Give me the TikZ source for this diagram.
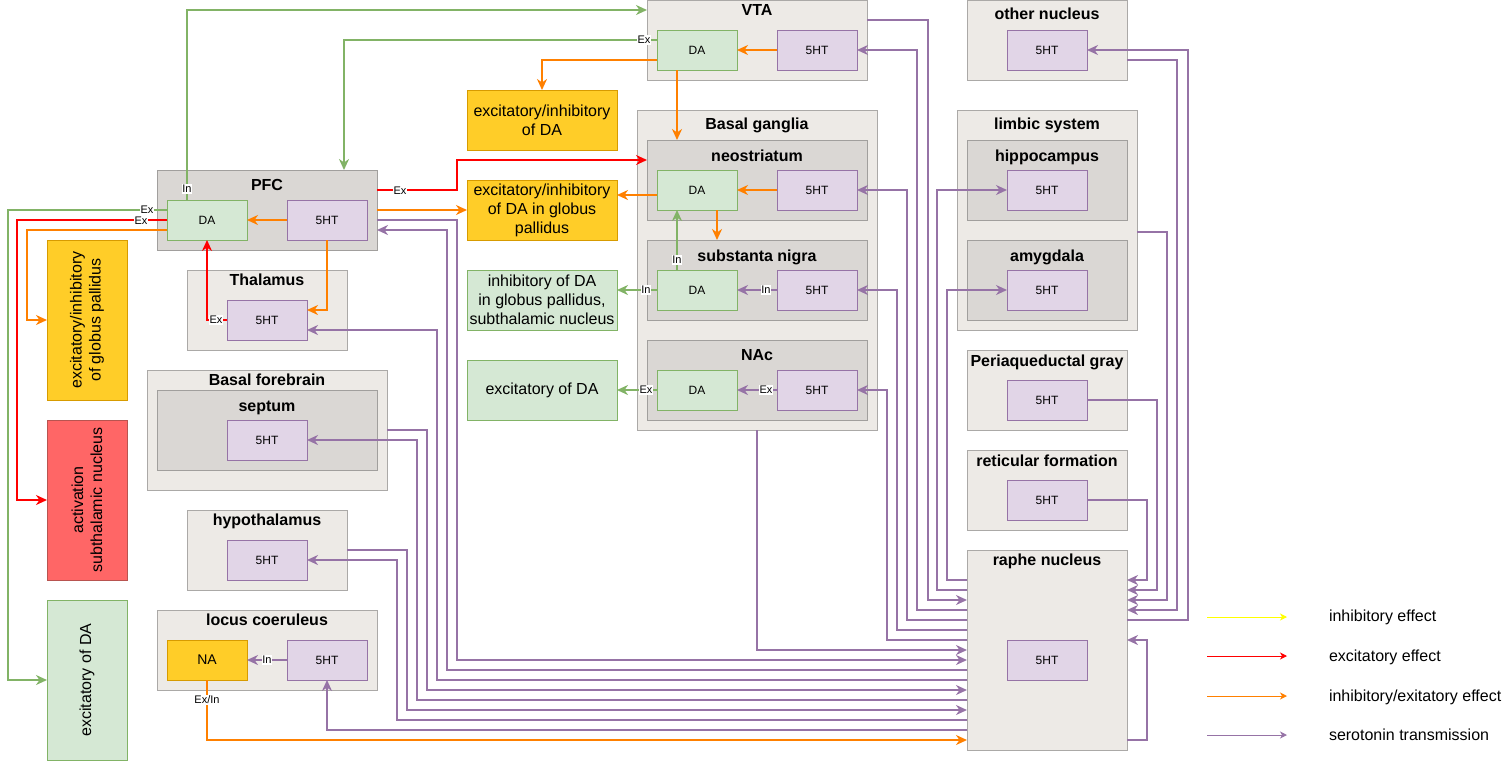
\documentclass[tikz,border=0pt]{standalone}
\usepackage{fontspec}
\setmainfont{Liberation Sans}
\usetikzlibrary{arrows.meta,calc}
\definecolor{cOut}{HTML}{EDEAE6}
\definecolor{cOutD}{HTML}{ABA9A7}
\definecolor{cIn}{HTML}{DAD7D4}
\definecolor{cInD}{HTML}{A19F9D}
\definecolor{cGf}{HTML}{D5E8D4}
\definecolor{cGd}{HTML}{82B366}
\definecolor{cPf}{HTML}{E1D5E7}
\definecolor{cPd}{HTML}{9673A6}
\definecolor{cYf}{HTML}{FFCD28}
\definecolor{cYd}{HTML}{D79B00}
\definecolor{cRf}{HTML}{FF6666}
\definecolor{cRd}{HTML}{B85450}
\definecolor{cOr}{HTML}{FF8000}
\definecolor{cRed}{HTML}{FF0000}
\definecolor{cLeg}{HTML}{FFFF00}
\newcommand\cont[6]{\node[#1, anchor=north west, minimum width=#5pt, minimum height=#6pt] (#2) at (#3,#4) {};}
\begin{document}
\begin{tikzpicture}[x=1pt,y=-1pt,
  every node/.style={inner sep=0pt, outer sep=0pt},
  outerbox/.style={draw=cOutD, fill=cOut, line width=1pt},
  innerbox/.style={draw=cInD, fill=cIn, line width=1pt},
  small/.style={minimum width=80pt, minimum height=40pt, line width=1pt, font=\fontsize{12}{14}\selectfont},
  dabox/.style={small, draw=cGd, fill=cGf},
  htbox/.style={small, draw=cPd, fill=cPf},
  nabox/.style={small, draw=cYd, fill=cYf, font=\fontsize{14}{16}\selectfont},
  txtbox/.style={minimum width=150pt, minimum height=60pt, line width=1pt, align=center, font=\fontsize{16}{19}\selectfont},
  sidebox/.style={rotate=90, minimum width=160pt, minimum height=80pt, line width=1pt, align=center, font=\fontsize{16}{19}\selectfont},
  ttl/.style={anchor=base, font=\bfseries\fontsize{16}{19}\selectfont},
  lab/.style={fill=white, inner sep=0.8pt, font=\fontsize{11}{12}\selectfont},
  legt/.style={anchor=west, font=\fontsize{16}{19}\selectfont},
  tip/.style={-{Stealth[length=11pt,width=10pt,inset=3.5pt]}},
  legtip/.style={-{Stealth[length=7pt,width=7pt,inset=2pt]}},
  gl/.style={draw=cGd, line width=2pt, tip},
  rl/.style={draw=cRed, line width=2pt, tip},
  ol/.style={draw=cOr, line width=2pt, tip},
  pl/.style={draw=cPd, line width=2pt, tip}
]
\useasboundingbox (0,0) rectangle (1504,761);

% containers
\cont{outerbox}{vta}{647}{0}{220}{80}
\cont{outerbox}{oth}{967}{0}{160}{80}
\cont{outerbox}{bg}{637}{110}{240}{320}
\cont{innerbox}{neo}{647}{140}{220}{80}
\cont{innerbox}{sn}{647}{240}{220}{80}
\cont{innerbox}{nac}{647}{340}{220}{80}
\cont{outerbox}{lim}{957}{110}{180}{220}
\cont{innerbox}{hip}{967}{140}{160}{80}
\cont{innerbox}{amy}{967}{240}{160}{80}
\cont{outerbox}{pag}{967}{350}{160}{80}
\cont{outerbox}{rf}{967}{450}{160}{80}
\cont{outerbox}{raphe}{967}{550}{160}{200}
\cont{innerbox}{pfc}{157}{170}{220}{80}
\cont{outerbox}{thal}{187}{270}{160}{80}
\cont{outerbox}{bf}{147}{370}{240}{120}
\cont{innerbox}{sep}{157}{390}{220}{80}
\cont{outerbox}{hyp}{187}{510}{160}{80}
\cont{outerbox}{lc}{157}{610}{220}{80}

% titles
\node[ttl] (vtaT) at (757,15) {VTA};
\node[ttl] (othT) at (1047,19) {other nucleus};
\node[ttl] (bgT) at (757,129) {Basal ganglia};
\node[ttl] (neoT) at (757,161) {neostriatum};
\node[ttl] (snT) at (757,261) {substanta nigra};
\node[ttl] (nacT) at (757,360) {NAc};
\node[ttl] (limT) at (1047,129) {limbic system};
\node[ttl] (hipT) at (1047,161) {hippocampus};
\node[ttl] (amyT) at (1047,261) {amygdala};
\node[ttl] (pagT) at (1047,366) {Periaqueductal gray};
\node[ttl] (rfT) at (1047,466) {reticular formation};
\node[ttl] (rapheT) at (1047,565) {raphe nucleus};
\node[ttl] (pfcT) at (267,190) {PFC};
\node[ttl] (thalT) at (267,285) {Thalamus};
\node[ttl] (bfT) at (267,385) {Basal forebrain};
\node[ttl] (sepT) at (267,411) {septum};
\node[ttl] (hypT) at (267,525) {hypothalamus};
\node[ttl] (lcT) at (267,625) {locus coeruleus};

% small boxes
\node[dabox] (vtada) at (697,50) {DA};
\node[htbox] (vta5) at (817,50) {5HT};
\node[htbox] (oth5) at (1047,50) {5HT};
\node[dabox] (neoda) at (697,190) {DA};
\node[htbox] (neo5) at (817,190) {5HT};
\node[dabox] (snda) at (697,290) {DA};
\node[htbox] (sn5) at (817,290) {5HT};
\node[dabox] (nacda) at (697,390) {DA};
\node[htbox] (nac5) at (817,390) {5HT};
\node[htbox] (hip5) at (1047,190) {5HT};
\node[htbox] (amy5) at (1047,290) {5HT};
\node[htbox] (pag5) at (1047,400) {5HT};
\node[htbox] (rf5) at (1047,500) {5HT};
\node[htbox] (raphe5) at (1047,660) {5HT};
\node[dabox] (pfcda) at (207,220) {DA};
\node[htbox] (pfc5) at (327,220) {5HT};
\node[htbox] (thal5) at (267,320) {5HT};
\node[htbox] (sep5) at (267,440) {5HT};
\node[htbox] (hyp5) at (267,560) {5HT};
\node[nabox] (lcna) at (207,660) {NA};
\node[htbox] (lc5) at (327,660) {5HT};

% effect boxes
\node[txtbox, draw=cYd, fill=cYf] (yb1) at (542,120) {excitatory/inhibitory\\of DA};
\node[txtbox, draw=cYd, fill=cYf] (yb2) at (542,210) {excitatory/inhibitory\\of DA in globus\\pallidus};
\node[txtbox, draw=cGd, fill=cGf] (gb1) at (542,300) {inhibitory of DA\\in globus pallidus,\\subthalamic nucleus};
\node[txtbox, draw=cGd, fill=cGf] (gb2) at (542,390) {excitatory of DA};
\node[sidebox, draw=cYd, fill=cYf] (ly) at (87,320) {excitatory/inhibitory\\of globus pallidus};
\node[sidebox, draw=cRd, fill=cRf] (lr) at (87,500) {activation\\subthalamic nucleus};
\node[sidebox, draw=cGd, fill=cGf] (lg) at (87,680) {excitatory of DA};

% green
\draw[gl] ([xshift=20pt]pfcda.north west) |- ([yshift=-10pt]vta.north west);
\draw[gl] ([yshift=-10pt]vtada.north west) -| ([xshift=187pt]pfc.north west);
\draw[gl] ([yshift=-10pt]pfcda.north west) -| (8,680) -- (lg.north);
\draw[gl] ([xshift=20pt]snda.north west) -- ([xshift=20pt]neoda.south west);
\draw[gl] (snda.west) -- (snda.west -| gb1.east);
\draw[gl] (nacda.west) -- (gb2.east);

% red
\draw[rl] ([yshift=-20pt]pfcda.north west) -| (17,500) -- (lr.north);
\draw[rl] (thal5.west) -| (pfcda.south);
\draw[rl] ([yshift=-20pt]pfc.north east) -- (457,190) |- ([yshift=-20pt]neo.north west);

% orange
\draw[ol] (vta5.west) -- (vtada.east);
\draw[ol] ([yshift=10pt]vtada.south west) -| (yb1.north);
\draw[ol] ([xshift=20pt]vtada.south west) -- ([xshift=30pt]neo.north west);
\draw[ol] (neo5.west) -- (neoda.east);
\draw[ol] ([yshift=15pt]neoda.south west) -- ([yshift=15pt]yb2.east);
\draw[ol] ([xshift=60pt]neoda.south west) -- ([xshift=70pt]sn.north west);
\draw[ol] (pfc5.west) -- (pfcda.east);
\draw[ol] ([yshift=-40pt]pfc.north east) -- (yb2.west);
\draw[ol] ([yshift=-30pt]pfcda.north west) -| (27,320) -- (ly.north);
\draw[ol] (pfc5.south) |- ([yshift=-10pt]thal5.north east);
\draw[ol] (lcna.south) |- ([yshift=10pt]raphe.south west);

% purple inside
\draw[pl] (sn5.west) -- (snda.east);
\draw[pl] (nac5.west) -- (nacda.east);
\draw[pl] (lc5.west) -- (lcna.east);

% purple raphe left side
\draw[pl] ([yshift=-30pt]raphe.north west) -- (947,580) |- (amy5.west);
\draw[pl] ([yshift=-40pt]raphe.north west) -- (937,590) |- (hip5.west);
\draw[pl] ([yshift=-20pt]vta.north east) -- (928,20) |- ([yshift=-50pt]raphe.north west);
\draw[pl] ([yshift=-60pt]raphe.north west) -- (917,610) |- (vta5.east);
\draw[pl] ([yshift=-70pt]raphe.north west) -- (907,620) |- (neo5.east);
\draw[pl] ([yshift=-80pt]raphe.north west) -- (897,630) |- (sn5.east);
\draw[pl] ([yshift=-90pt]raphe.north west) -- (887,640) |- (nac5.east);
\draw[pl] ([xshift=120pt]bg.south west) |- ([yshift=-100pt]raphe.north west);
\draw[pl] ([yshift=-50pt]pfc.north east) -- (457,220) |- ([yshift=-110pt]raphe.north west);
\draw[pl] ([yshift=-120pt]raphe.north west) -- (447,670) |- ([yshift=-60pt]pfc.north east);
\draw[pl] ([yshift=-130pt]raphe.north west) -- (437,680) |- ([yshift=-10pt]thal5.east);
\draw[pl] ([yshift=-60pt]bf.north east) -- (427,430) |- ([yshift=-140pt]raphe.north west);
\draw[pl] ([yshift=-150pt]raphe.north west) -- (417,700) |- (sep5.east);
\draw[pl] ([yshift=-40pt]hyp.north east) -- (407,550) |- ([yshift=-160pt]raphe.north west);
\draw[pl] ([yshift=-170pt]raphe.north west) -- (397,720) |- (hyp5.east);
\draw[pl] ([yshift=-180pt]raphe.north west) -| (lc5.south);

% purple raphe right side
\draw[pl] (rf5.east) -- (1147,500) |- ([yshift=-30pt]raphe.north east);
\draw[pl] (pag5.east) -- (1157,400) |- ([yshift=-40pt]raphe.north east);
\draw[pl] ([yshift=-122pt]lim.north east) -- (1167,232) |- ([yshift=-50pt]raphe.north east);
\draw[pl] ([yshift=-60pt]oth.north east) -- (1177,60) |- ([yshift=-60pt]raphe.north east);
\draw[pl] ([yshift=-70pt]raphe.north east) -- (1188,620) |- (oth5.east);
\draw[pl] ([yshift=10pt]raphe.south east) -- (1147,740) |- ([yshift=-90pt]raphe.north east);

% connector labels
\node[lab] (t1) at (187,189) {In};
\node[lab] (t2) at (644,40) {Ex};
\node[lab] (t3) at (147,210) {Ex};
\node[lab] (t4) at (141,221) {Ex};
\node[lab] (t5) at (216,320) {Ex};
\node[lab] (t6) at (400,191) {Ex};
\node[lab] (t7) at (677,260) {In};
\node[lab] (t8) at (646,290) {In};
\node[lab] (t9) at (766,290) {In};
\node[lab] (t10) at (646,390) {Ex};
\node[lab] (t11) at (766,390) {Ex};
\node[lab] (t12) at (267,660) {In};
\node[lab] (t13) at (207,700) {Ex/In};

% legend
\coordinate (l1a) at (1207,617); \coordinate (l1b) at (1287,617);
\coordinate (l2a) at (1207,656); \coordinate (l2b) at (1287,656);
\coordinate (l3a) at (1207,696); \coordinate (l3b) at (1287,696);
\coordinate (l4a) at (1207,735); \coordinate (l4b) at (1287,735);
\draw[draw=cLeg, line width=1pt, legtip] (l1a) -- (l1b);
\draw[draw=cRed, line width=1pt, legtip] (l2a) -- (l2b);
\draw[draw=cOr, line width=1pt, legtip] (l3a) -- (l3b);
\draw[draw=cPd, line width=1pt, legtip] (l4a) -- (l4b);
\node[legt] (lt1) at (1329,617) {inhibitory effect};
\node[legt] (lt2) at (1329,657) {excitatory effect};
\node[legt] (lt3) at (1329,697) {inhibitory/exitatory effect};
\node[legt] (lt4) at (1329,735) {serotonin transmission};
\end{tikzpicture}
\end{document}
